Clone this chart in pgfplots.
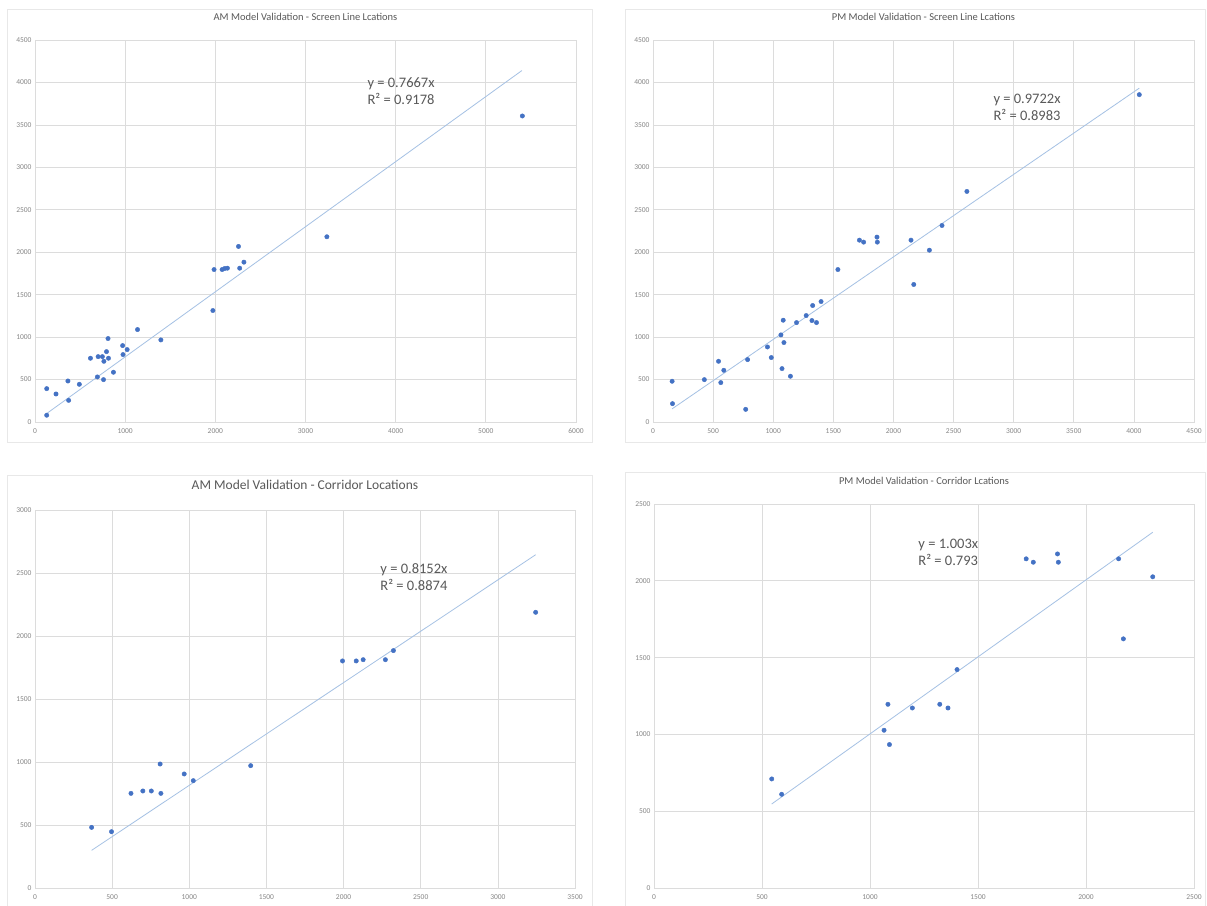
\documentclass[border=0pt]{standalone}
\usepackage{fontspec}
\setmainfont{Carlito}
\usepackage{pgfplots}
\pgfplotsset{compat=1.18}
\definecolor{mk}{RGB}{68,114,196}
\definecolor{tl}{RGB}{165,193,228}
\definecolor{gl}{RGB}{220,220,220}
\definecolor{tk}{RGB}{135,135,135}
\definecolor{tt}{RGB}{89,89,89}
\definecolor{cb}{RGB}{232,232,232}
\pgfplotsset{
  mystyle/.style={
    scale only axis,
    anchor=south west,
    axis line style={gl},
    grid=major,
    major grid style={gl, line width=0.7pt},
    tick style={draw=none},
    ticklabel style={font=\fontsize{7.5}{9}\selectfont, text=tk},
    xticklabel style={yshift=-3pt},
    /pgf/number format/assume math mode=true,
    /pgf/number format/set thousands separator={},
    scaled ticks=false,
    title style={font=\fontsize{10.5}{12}\selectfont, text=tt, at={(0.5,1)}, anchor=center, yshift=17pt},
  },
  pts/.style={only marks, mark=*, mark size=2.2pt, mark options={fill=mk, draw=mk}},
  trend/.style={no marks, color=tl, line width=0.8pt},
}
\tikzset{eq/.style={anchor=west, align=left, font=\fontsize{14.5}{17}\selectfont, text=tt}}
\begin{document}
\begin{tikzpicture}[x=1pt,y=1pt]
\path[use as bounding box, fill=white] (0,0) rectangle (1207,905);
% chart area borders
\draw[cb, line width=0.8pt] (7,463) rectangle (592,896);
\draw[cb, line width=0.8pt] (625,463) rectangle (1205,896);
\draw[cb, line width=0.8pt] (7,-5) -- (7,430) -- (592,430) -- (592,-5);
\draw[cb, line width=0.8pt] (625,-5) -- (625,433) -- (1205,433) -- (1205,-5);

% Panel 1: AM screen line
\begin{axis}[mystyle, at={(35pt,483pt)}, width=541pt, height=382pt,
  xmin=0, xmax=6000, ymin=0, ymax=4500,
  xtick={0,1000,...,6000}, ytick={0,500,...,4500},
  title={AM Model Validation - Screen Line Lcations}]
\addplot[trend] coordinates {(130,100) (5400,4140)};
\addplot[pts] coordinates {
(130,80) (130,393) (233,330) (365,483) (373,255) (492,444) (615,751) (692,531)
(700,770) (747,770) (764,715) (760,499) (793,829) (810,983) (815,751) (870,586)
(972,900) (976,794) (1022,853) (1137,1089) (1396,967) (1973,1313) (1986,1796)
(2075,1796) (2104,1808) (2134,1812) (2257,2068) (2270,1812) (2317,1883)
(3237,2182) (5405,3605)};
\node[eq] at (axis cs:3649,3893) {y = 0.7667x\\R² = 0.9178};
\end{axis}

% Panel 2: PM screen line
\begin{axis}[mystyle, at={(653pt,483pt)}, width=541pt, height=382pt,
  xmin=0, xmax=4500, ymin=0, ymax=4500,
  xtick={0,500,...,4500}, ytick={0,500,...,4500},
  title={PM Model Validation - Screen Line Lcations}]
\addplot[trend] coordinates {(159,155) (4045,3933)};
\addplot[pts] coordinates {
(159,480) (162,216) (427,499) (545,715) (564,464) (589,609) (771,149) (787,735)
(952,884) (984,759) (1064,1026) (1073,629) (1083,1199) (1089,936) (1143,539)
(1194,1171) (1274,1254) (1322,1195) (1328,1372) (1360,1171) (1398,1419)
(1538,1796) (1717,2142) (1752,2119) (1863,2178) (1866,2119) (2146,2142)
(2169,1620) (2299,2024) (2404,2315) (2611,2716) (4045,3856)};
\node[eq] at (axis cs:2803,3705) {y = 0.9722x\\R² = 0.8983};
\end{axis}

% Panel 3: AM corridor
\begin{axis}[mystyle, at={(35pt,17pt)}, width=540pt, height=378pt,
  xmin=0, xmax=3500, ymin=0, ymax=3000,
  xtick={0,500,...,3500}, ytick={0,500,...,3000},
  title style={font=\fontsize{13.5}{15}\selectfont, yshift=2pt},
  title={AM Model Validation - Corridor Locations}]
\addplot[trend] coordinates {(367,299) (3245,2645)};
\addplot[pts] coordinates {
(367,481) (496,447) (622,751) (699,770) (754,770) (811,984) (816,751) (967,905)
(1026,852) (1398,971) (1993,1802) (2082,1802) (2127,1812) (2271,1812)
(2323,1884) (3245,2188)};
\node[eq] at (axis cs:2216,2464) {y = 0.8152x\\R² = 0.8874};
\end{axis}

% Panel 4: PM corridor
\begin{axis}[mystyle, at={(654pt,17pt)}, width=540pt, height=384pt,
  xmin=0, xmax=2500, ymin=0, ymax=2500,
  xtick={0,500,...,2500}, ytick={0,500,...,2500},
  title={PM Model Validation - Corridor Lcations}]
\addplot[trend] coordinates {(545,547) (2309,2316)};
\addplot[pts] coordinates {
(545,710) (591,610) (1065,1027) (1083,1196) (1090,934) (1196,1172) (1323,1196)
(1361,1172) (1403,1422) (1723,2143) (1756,2121) (1868,2175) (1872,2121)
(2151,2143) (2173,1622) (2309,2026)};
\node[eq] at (axis cs:1208,2187) {y = 1.003x\\R² = 0.793};
\end{axis}
\end{tikzpicture}
\end{document}
